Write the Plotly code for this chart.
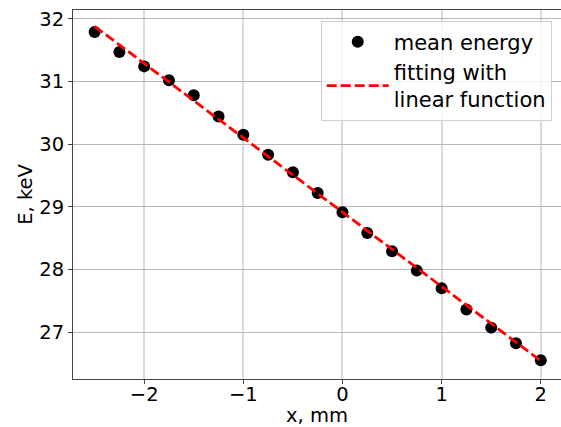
import plotly.graph_objects as go

# data
x_mm = [-2.5, -2.25, -2.0, -1.75, -1.5, -1.25, -1.0, -0.75, -0.5, -0.25,
        0.0, 0.25, 0.5, 0.75, 1.0, 1.25, 1.5, 1.75, 2.0]
energy_kev = [31.79, 31.47, 31.24, 31.02, 30.78, 30.44, 30.15, 29.83, 29.55, 29.22,
              28.91, 28.58, 28.29, 27.98, 27.70, 27.36, 27.07, 26.82, 26.55]
fit_x = [-2.5, 2.0]
fit_y = [31.88, 26.54]

x_ticks = [-2, -1, 0, 1, 2]
y_ticks = [27, 28, 29, 30, 31, 32]

FONT = "DejaVu Sans"

fig = go.Figure()
fig.add_trace(go.Scatter(
    x=x_mm, y=energy_kev, mode="markers", name="mean energy",
    marker=dict(color="black", size=12, line=dict(width=0)),
))
fig.add_trace(go.Scatter(
    x=fit_x, y=fit_y, mode="lines", name="fitting with<br>linear function",
    line=dict(color="red", width=2.8, dash="10px,4px"),
))

fig.update_layout(
    width=561, height=427,
    margin=dict(l=73, r=0, t=10, b=48),
    paper_bgcolor="white", plot_bgcolor="white",
    font=dict(family=FONT, size=19.5, color="black"),
    showlegend=True,
    legend=dict(
        x=0.981, y=0.9715, xanchor="right", yanchor="top",
        bgcolor="rgba(255,255,255,0.8)", bordercolor="#d0d0d0", borderwidth=1,
        font=dict(family=FONT, size=21, color="black"),
        itemwidth=62, tracegroupgap=0,
    ),
    xaxis=dict(
        range=[-2.718, 2.204], tickvals=x_ticks,
        showgrid=True, gridcolor="#dadada", gridwidth=1.5,
        zeroline=False, showline=True, linecolor="#444", linewidth=1,
        mirror=True, ticks="outside", ticklen=4, tickcolor="#444",
        ticklabelstandoff=-6,
        tickfont=dict(size=19.5), title=dict(text="x, mm", font=dict(size=19.5), standoff=3),
    ),
    yaxis=dict(
        range=[26.25, 32.14], tickvals=y_ticks,
        showgrid=True, gridcolor="#b8b8b8", gridwidth=1,
        zeroline=False, showline=True, linecolor="#444", linewidth=1,
        mirror=True, ticks="outside", ticklen=4, tickcolor="#444",
        tickfont=dict(size=19.5), title=dict(text="E, keV", font=dict(size=19.5), standoff=1),
    ),
)

fig.write_html("out.html")
